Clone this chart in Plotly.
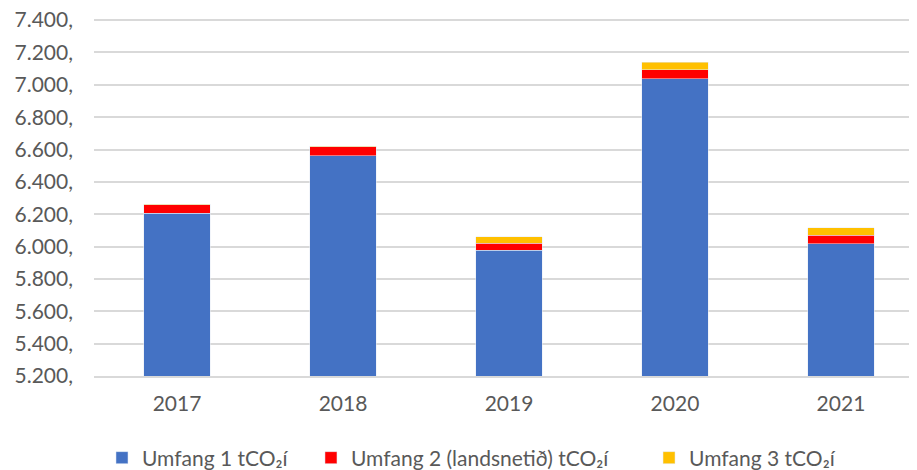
import plotly.graph_objects as go

years = ["2017", "2018", "2019", "2020", "2021"]
umfang1 = [6205, 6561, 5977, 7037, 6018]
umfang2 = [55, 57, 45, 56, 53]
umfang3 = [3, 2, 39, 47, 44]

tick_vals = list(range(5200, 7401, 200))
tick_text = [f"{v:,}".replace(",", ".") + "," for v in tick_vals]

font_color = "#595959"
fsize = 21

# the page body has an 8px margin, so the figure is drawn 8px smaller
W, H = 909, 462

fig = go.Figure()
fig.add_trace(go.Bar(x=years, y=umfang1, name="Umfang 1 tCO₂í", marker_color="#4472C4",
                     legend="legend"))
fig.add_trace(go.Bar(x=years, y=umfang2, name="Umfang 2 (landsnetið) tCO₂í", marker_color="#FF0000",
                     legend="legend2"))
fig.add_trace(go.Bar(x=years, y=umfang3, name="Umfang 3 tCO₂í", marker_color="#FFC000",
                     legend="legend3"))

def leg(x):
    return dict(orientation="h", xref="container", yref="container",
                x=x, xanchor="left", y=0.026, yanchor="middle",
                font=dict(size=fsize, color=font_color), itemwidth=30,
                bgcolor="rgba(0,0,0,0)")

fig.update_layout(
    width=W, height=H,
    barmode="stack", bargap=0.6,
    margin=dict(l=86, r=0, t=4, b=94),
    plot_bgcolor="white", paper_bgcolor="white",
    font=dict(family="Lato, Noto Sans, sans-serif", size=fsize, color=font_color),
    legend=leg(0.1034),
    legend2=leg(0.3333),
    legend3=leg(0.7052),
    showlegend=True,
)
fig.update_xaxes(range=[-0.5, 4.458], showline=True, linecolor="#D9D9D9", linewidth=1.5,
                 ticks="", tickfont=dict(size=fsize), automargin=False, ticklabelstandoff=8)
fig.update_yaxes(range=[5200, 7450], tickvals=tick_vals, ticktext=tick_text,
                 showgrid=True, gridcolor="#D9D9D9", gridwidth=1.5, zeroline=False,
                 ticks="", tickfont=dict(size=fsize), automargin=False, ticklabelstandoff=20,
                 ticklabeloverflow="allow")

fig.write_html("out.html")
